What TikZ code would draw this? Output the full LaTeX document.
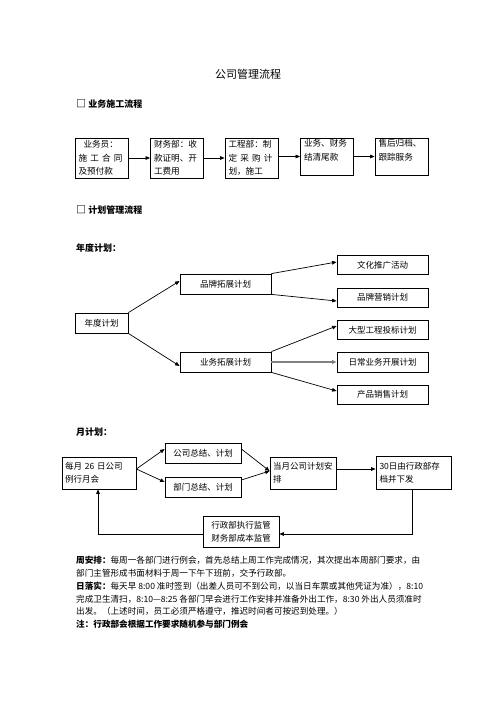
\documentclass[tikz,border=0pt]{standalone}
\usepackage{fontspec}
\setmainfont{Noto Sans CJK SC}
\usetikzlibrary{arrows.meta}
\begin{document}
\begin{tikzpicture}[x=1pt,y=-1pt,
  box/.style={draw, line width=0.8pt, inner sep=0pt, font=\fontsize{8.5}{13}\selectfont},
  topbox/.style={box, minimum width=53pt, minimum height=40pt, text width=46pt, align=left, font=\fontsize{8.6}{13.5}\selectfont},
  planbox/.style={box, minimum width=91pt, minimum height=19pt, align=center},
  monbox/.style={box, align=left},
  arr/.style={line width=0.7pt, -{Triangle[length=4.5pt,width=3.6pt]}},
  grayarr/.style={line width=1.6pt, draw=black!50, -{Triangle[length=4.5pt,width=4pt]}, shorten >=0pt},
  head/.style={anchor=west, inner sep=0pt, font=\fontsize{9}{11}\selectfont\bfseries},
  body/.style={anchor=west, inner sep=0pt, font=\fontsize{8.6}{11}\selectfont}
]
\useasboundingbox (0,0) rectangle (496,702);
\fill[white] (0,0) rectangle (496,702);

% title and headings
\node[inner sep=0pt, font=\fontsize{11}{13}\selectfont] (title) at (248,74) {公司管理流程};
\node[head] (h1) at (76,104) {{\fontsize{10}{11}\selectfont □}\ 业务施工流程};
\node[head] (h2) at (76,210) {{\fontsize{10}{11}\selectfont □}\ 计划管理流程};
\node[head] (h3) at (76,248) {年度计划：};
\node[head] (h4) at (76,432) {月计划：};

% business process row
\node[topbox] (b1) at (101.5,158) {\hspace*{5pt}业务员：\\\makebox[44pt][s]{施\hfill 工\hfill 合\hfill 同}\\及预付款};
\node[topbox] (b2) at (177,158) {财务部：收\\款证明、开\\工费用};
\node[topbox] (b3) at (251.5,158) {工程部：制\\\makebox[44pt][s]{定\hfill 采\hfill 购\hfill 计}\\划，施工};
\node[topbox, minimum height=37pt] (b4) at (327,156.5) {业务、财务\\结清尾款\\\mbox{}};
\node[topbox, minimum height=37pt] (b5) at (401.5,156.5) {售后归档、\\跟踪服务\\\mbox{}};
\draw[arr] (b1.east) -- (b2.west);
\draw[arr] (b2.east) -- (b3.west);
\draw[arr] ([yshift=1.5pt]b3.east) -- (b4.west);
\draw[arr] (b4.east) -- (b5.west);

% annual plan
\node[box, minimum width=53pt, minimum height=20pt] (y0) at (101.5,323) {年度计划};
\node[box, minimum width=91pt, minimum height=20pt] (y1) at (225.5,284) {品牌拓展计划};
\node[box, minimum width=91pt, minimum height=20pt] (y2) at (225.5,362) {业务拓展计划};
\node[planbox] (r1) at (382.5,265) {文化推广活动};
\node[planbox] (r2) at (382.5,297.5) {品牌营销计划};
\node[planbox] (r3) at (382.5,330) {大型工程投标计划};
\node[planbox, minimum height=20pt] (r4) at (382.5,362) {日常业务开展计划};
\node[planbox] (r5) at (382.5,394.5) {产品销售计划};
\draw[arr] (y0.north east) -- ([yshift=3pt]y1.west);
\draw[arr] (y0.south east) -- ([yshift=-4pt]y2.west);
\draw[arr] (y1.north east) -- ([yshift=3pt]r1.west);
\draw[arr] (y1.south east) -- ([yshift=-3.5pt]r2.west);
\draw[arr] (y2.north east) -- ([yshift=4pt]r3.west);
\draw[grayarr] (y2.east) -- (r4.west);
\draw[arr] (y2.south east) -- ([yshift=3.5pt]r5.west);

% monthly plan
\node[monbox, minimum width=74pt, minimum height=32pt, text width=68pt] (m1) at (99,473) {每月\ 26\ 日公司\\例行月会};
\node[box, minimum width=76pt, minimum height=20pt] (m2) at (203,453) {公司总结、计划};
\node[box, minimum width=76pt, minimum height=20pt] (m3) at (203,487) {部门总结、计划};
\node[monbox, minimum width=66pt, minimum height=32pt, text width=60pt] (m4) at (303,473) {当月公司计划安\\排};
\node[monbox, minimum width=75pt, minimum height=33pt, text width=68pt] (m5) at (413.5,472.5) {30日由行政部存\\档并下发};
\node[box, minimum width=76pt, minimum height=31pt, align=center] (m6) at (241,531.5) {行政部执行监管\\财务部成本监管};
\draw[arr] ([yshift=4pt]m1.east) -- ([yshift=4pt]m2.west);
\draw[arr] ([yshift=4pt]m1.east) -- ([yshift=5pt]m3.west);
\draw[arr] ([yshift=4pt]m2.east) -- ([yshift=2pt]m4.west);
\draw[arr] ([yshift=7pt]m3.east) -- ([yshift=2pt]m4.west);
\draw[arr] ([yshift=4pt]m4.east) -- ([yshift=3.5pt]m5.west);
\coordinate (c1) at (412,534);
\coordinate (c2) at (98,534);
\draw[arr] (m5.south -| c1) -- (c1) -- ([yshift=-2.5pt]m6.east);
\draw[arr] ([yshift=-2.5pt]m6.west) -- (c2) -- (m1.south -| c2);

% text
\node[body] (t1) at (76,560) {{\bfseries 周安排：}每周一各部门进行例会，首先总结上周工作完成情况，其次提出本周部门要求，由};
\node[body] (t2) at (76,573) {部门主管形成书面材料于周一下午下班前，交予行政部。};
\node[body] (t3) at (76,586) {{\bfseries 日落实：}每天早 8:00 准时签到（出差人员可不到公司，以当日车票或其他凭证为准），8:10};
\node[body] (t4) at (76,599) {完成卫生清扫，8:10—8:25 各部门早会进行工作安排并准备外出工作，8:30 外出人员须准时};
\node[body] (t5) at (76,611) {出发。（上述时间，员工必须严格遵守，推迟时间者可按迟到处理。）};
\node[body, font=\fontsize{8.6}{11}\selectfont\bfseries] (t6) at (76,624) {注：行政部会根据工作要求随机参与部门例会};
\end{tikzpicture}
\end{document}
